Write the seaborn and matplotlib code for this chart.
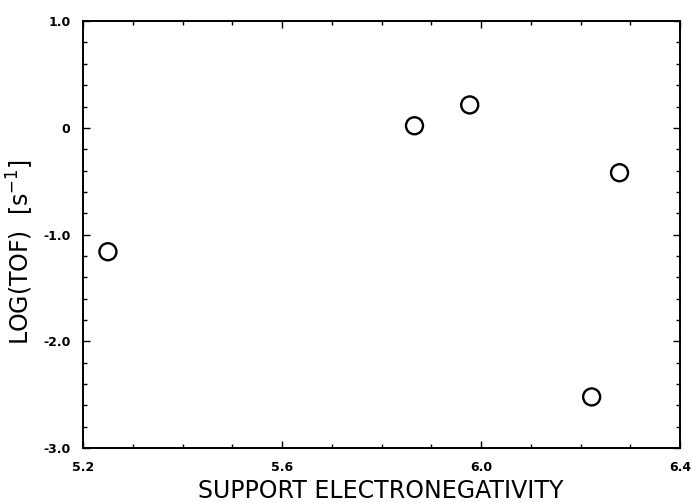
import matplotlib
matplotlib.use("Agg")
import matplotlib.pyplot as plt
import seaborn as sns
import pandas as pd
from matplotlib.ticker import MultipleLocator

# values
electroneg = [5.25, 5.866, 5.977, 6.222, 6.278]
log_tof = [-1.16, 0.02, 0.215, -2.52, -0.42]

x_ticks = [5.2, 5.6, 6.0, 6.4]
x_tick_labels = ["5.2", "5.6", "6.0", "6.4"]
y_ticks = [1.0, 0.0, -1.0, -2.0, -3.0]
y_tick_labels = ["1.0", "0", "-1.0", "-2.0", "-3.0"]

df = pd.DataFrame({"en": electroneg, "tof": log_tof})

sns.set_style("ticks")
plt.rcParams["font.family"] = ["DejaVu Sans"]
plt.rcParams["text.color"] = "black"
plt.rcParams["axes.labelcolor"] = "black"
plt.rcParams["xtick.color"] = "black"
plt.rcParams["ytick.color"] = "black"

fig = plt.figure(figsize=(6.92, 5.03), dpi=100)
ax = fig.add_axes([0.12, 0.109, 0.863, 0.849])

sns.scatterplot(data=df, x="en", y="tof", ax=ax, marker="o", s=150,
                color="black", linewidth=1.7, zorder=3)
ax.collections[0].set_facecolor("none")
ax.collections[0].set_edgecolor("black")

ax.set_xlim(5.2, 6.4)
ax.set_ylim(-3.0, 1.0)
ax.set_xticks(x_ticks)
ax.set_xticklabels(x_tick_labels, fontsize=9, fontweight="bold")
ax.set_yticks(y_ticks)
ax.set_yticklabels(y_tick_labels, fontsize=9, fontweight="bold")
ax.xaxis.set_minor_locator(MultipleLocator(0.1))
ax.yaxis.set_minor_locator(MultipleLocator(0.2))
ax.tick_params(which="both", direction="in", top=True, right=True,
               color="black", labelcolor="black", width=1.0)
ax.tick_params(which="major", length=5, pad=9)
ax.tick_params(which="minor", length=3)

for side in ["left", "right", "top", "bottom"]:
    ax.spines[side].set_visible(True)
    ax.spines[side].set_color("black")
    ax.spines[side].set_linewidth(1.4)

ax.set_xlabel("")
ax.set_ylabel("")
fig.text(0.55, 0.024, "SUPPORT ELECTRONEGATIVITY", fontsize=17,
         color="black", ha="center", va="center")
fig.text(0.03, 0.50, r"LOG(TOF)  [s$^{-1}$]", fontsize=17, color="black",
         ha="center", va="center", rotation=90)

fig.savefig("out.png", dpi=100)
